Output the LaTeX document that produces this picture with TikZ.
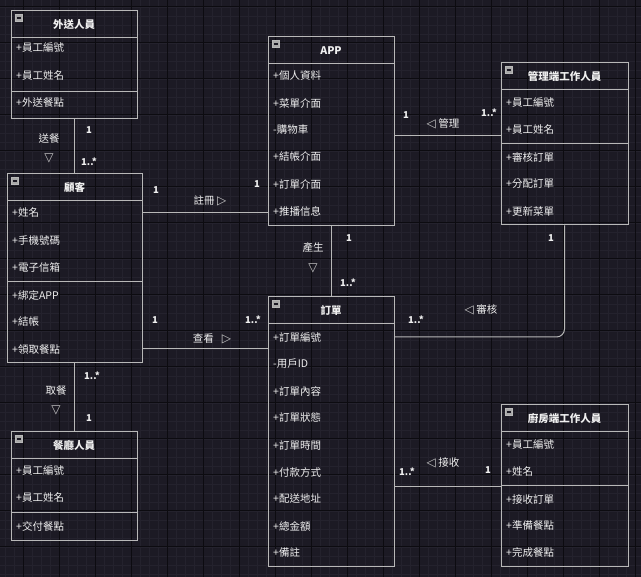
\documentclass[tikz,border=0pt]{standalone}
\usepackage{fontspec}
\newfontfamily\cjk{Noto Sans CJK TC}
\newfontfamily\symb{DejaVu Sans}
\usetikzlibrary{positioning}
\definecolor{canvas}{HTML}{1C1A24}
\definecolor{gridmajor}{HTML}{0C0B10}
\definecolor{gridminor}{HTML}{24222D}
\definecolor{frame}{HTML}{B8B8B8}
\definecolor{ink}{HTML}{F0F0F0}
\definecolor{marker}{HTML}{C8C8C8}
\definecolor{iconfill}{HTML}{A8A8A8}
\tikzset{
  classbox/.style={draw=frame, line width=1pt, inner sep=0pt},
  rule/.style={draw=frame, line width=1pt},
  assoc/.style={draw=frame, line width=1pt},
  minus/.style={fill=iconfill, draw=frame, line width=0.4pt, minimum size=7pt, inner sep=0pt,
    path picture={\draw[canvas, line width=1.2pt] ([xshift=1.3pt]path picture bounding box.west) -- ([xshift=-1.3pt]path picture bounding box.east);}},
  title/.style={text=ink, inner sep=0pt, font=\cjk\bfseries\fontsize{10.5}{12}\selectfont},
  member/.style={anchor=west, text=ink, inner sep=0pt, font=\cjk\fontsize{10.5}{12}\selectfont},
  mult/.style={text=ink, inner sep=0pt, font=\cjk\bfseries\fontsize{9.5}{11}\selectfont},
  role/.style={text=ink, inner sep=0pt, font=\cjk\fontsize{10.5}{12}\selectfont},
}
\newcommand{\dirmark}[1]{{\color{marker}\symb\fontsize{12}{12}\selectfont#1}}
\begin{document}
\begin{tikzpicture}[x=1pt, y=-1pt]
\useasboundingbox (0,0) rectangle (641,577);
\fill[canvas] (0,0) rectangle (641,577);
\foreach \x in {5,14,...,641} \draw[gridminor, line width=0.5pt] (\x,0) -- (\x,577);
\foreach \y in {7,16,...,577} \draw[gridminor, line width=0.5pt] (0,\y) -- (641,\y);
\foreach \x in {23,59,...,641} \draw[gridmajor, line width=1pt] (\x,0) -- (\x,577);
\foreach \y in {7,43,...,577} \draw[gridmajor, line width=1pt] (0,\y) -- (641,\y);
%%%% 外送人員
\node[classbox, minimum width=126pt, minimum height=108pt] (deliv) at (74,65) {};
\draw[rule] (11,38) -- (137,38);
\draw[rule] (11,92) -- (137,92);
\node[minus] at (19,18) {};
\node[title] (deliv-t) at (74,24.5) {外送人員};
\node[member] (deliv-1) at (16,48) {+員工編號};
\node[member] (deliv-2) at (16,76) {+員工姓名};
\node[member] (deliv-3) at (16,103) {+外送餐點};
%%%% 顧客
\node[classbox, minimum width=135pt, minimum height=189pt] (cust) at (74.5,268.5) {};
\draw[rule] (7,201) -- (142,201);
\draw[rule] (7,282) -- (142,282);
\node[minus] at (15,181) {};
\node[title] (cust-t) at (74.5,187.5) {顧客};
\node[member] (cust-1) at (12,213) {+姓名};
\node[member] (cust-2) at (12,241) {+手機號碼};
\node[member] (cust-3) at (12,268) {+電子信箱};
\node[member] (cust-4) at (12,295) {+綁定APP};
\node[member] (cust-5) at (12,322) {+結帳};
\node[member] (cust-6) at (12,349) {+領取餐點};
%%%% 餐廳人員
\node[classbox, minimum width=126pt, minimum height=109pt] (waiter) at (74,486.5) {};
\draw[rule] (11,459) -- (137,459);
\draw[rule] (11,513) -- (137,513);
\node[minus] at (19,439) {};
\node[title] (waiter-t) at (74,445.5) {餐廳人員};
\node[member] (waiter-1) at (16,471) {+員工編號};
\node[member] (waiter-2) at (16,498) {+員工姓名};
\node[member] (waiter-3) at (16,526) {+交付餐點};
%%%% APP
\node[classbox, minimum width=126pt, minimum height=189pt] (app) at (331,131.5) {};
\draw[rule] (268,64) -- (394,64);
\node[minus] at (276,44) {};
\node[title] (app-t) at (331,50.5) {APP};
\node[member] (app-1) at (273,76) {+個人資料};
\node[member] (app-2) at (273,103) {+菜單介面};
\node[member] (app-3) at (273,130) {-購物車};
\node[member] (app-4) at (273,157) {+結帳介面};
\node[member] (app-5) at (273,184) {+訂單介面};
\node[member] (app-6) at (273,211) {+推播信息};
%%%% 訂單
\node[classbox, minimum width=126pt, minimum height=270pt] (order) at (331,432) {};
\draw[rule] (268,324) -- (394,324);
\node[minus] at (276,304) {};
\node[title] (order-t) at (331,310.5) {訂單};
\node[member] (order-1) at (273,337) {+訂單編號};
\node[member] (order-2) at (273,364) {-用戶ID};
\node[member] (order-3) at (273,391) {+訂單內容};
\node[member] (order-4) at (273,418) {+訂單狀態};
\node[member] (order-5) at (273,445) {+訂單時間};
\node[member] (order-6) at (273,472) {+付款方式};
\node[member] (order-7) at (273,499) {+配送地址};
\node[member] (order-8) at (273,526) {+總金額};
\node[member] (order-9) at (273,553) {+備註};
%%%% 管理端工作人員
\node[classbox, minimum width=127pt, minimum height=162pt] (mgr) at (564.5,144) {};
\draw[rule] (501,90) -- (628,90);
\node[minus] at (509,70) {};
\node[title] (mgr-t) at (564.5,76.5) {管理端工作人員};
\node[member] (mgr-1) at (506,103) {+員工編號};
\node[member] (mgr-2) at (506,130) {+員工姓名};
\draw[rule] (501,144) -- (628,144);
\node[member] (mgr-3) at (506,157) {+審核訂單};
\node[member] (mgr-4) at (506,184) {+分配訂單};
\node[member] (mgr-5) at (506,211) {+更新菜單};
%%%% 廚房端工作人員
\node[classbox, minimum width=127pt, minimum height=162pt] (kitchen) at (564.5,486) {};
\draw[rule] (501,432) -- (628,432);
\node[minus] at (509,412) {};
\node[title] (kitchen-t) at (564.5,418.5) {廚房端工作人員};
\node[member] (kitchen-1) at (506,445) {+員工編號};
\node[member] (kitchen-2) at (506,472) {+姓名};
\draw[rule] (501,486) -- (628,486);
\node[member] (kitchen-3) at (506,499) {+接收訂單};
\node[member] (kitchen-4) at (506,526) {+準備餐點};
\node[member] (kitchen-5) at (506,553) {+完成餐點};
%%%% associations
\coordinate (mgr-in) at (501,136);
\coordinate (kitchen-in) at (501,486.5);
\draw[assoc] (deliv.south) -- (deliv.south |- cust.north);
\draw[assoc] (cust.south) -- (cust.south |- waiter.north);
\draw[assoc] (cust-1 -| cust.east) -- (cust-1 -| app.west);
\draw[assoc] (cust-6 -| cust.east) -- (cust-6 -| order.west);
\draw[assoc] (app.south) -- (order.north);
\draw[assoc] (mgr-in -| app.east) -- (mgr-in);
\draw[assoc, rounded corners=8pt] (order-1 -| order.east) -| (mgr.south);
\draw[assoc] (kitchen-in -| order.east) -- (kitchen-in);
%%%% labels
\node[role] (send) at (49,139) {送餐};
\node (send-dir) at (49,158) {\dirmark{▽}};
\node[mult] (send-a) at (89,130) {1};
\node[mult] (send-b) at (89,162) {1..*};
%%%%
\node[role] (pick) at (56,391) {取餐};
\node (pick-dir) at (56,410) {\dirmark{▽}};
\node[mult] (pick-a) at (92,376) {1..*};
\node[mult] (pick-b) at (89,418) {1};
%%%%
\node[role] (reg) at (210,201) {註冊 \dirmark{▷}};
\node[mult] (reg-a) at (156,190) {1};
\node[mult] (reg-b) at (257,184) {1};
%%%%
\node[role] (view) at (212,339) {查看\hspace{8pt}\dirmark{▷}};
\node[mult] (view-a) at (155,320) {1};
\node[mult] (view-b) at (253,320) {1..*};
%%%%
\node[role] (make) at (313,248) {產生};
\node (make-dir) at (313,268) {\dirmark{▽}};
\node[mult] (make-a) at (349,238) {1};
\node[mult] (make-b) at (348,283) {1..*};
%%%%
\node[role] (manage) at (443,124) {\dirmark{◁} 管理};
\node[mult] (manage-a) at (406,115) {1};
\node[mult] (manage-b) at (489,113) {1..*};
%%%%
\node[role] (review) at (481,310) {\dirmark{◁} 審核};
\node[mult] (review-a) at (416,320) {1..*};
\node[mult] (review-b) at (551,238) {1};
%%%%
\node[role] (recv) at (443,463) {\dirmark{◁} 接收};
\node[mult] (recv-a) at (407,472) {1..*};
\node[mult] (recv-b) at (488,470) {1};
\end{tikzpicture}
\end{document}
